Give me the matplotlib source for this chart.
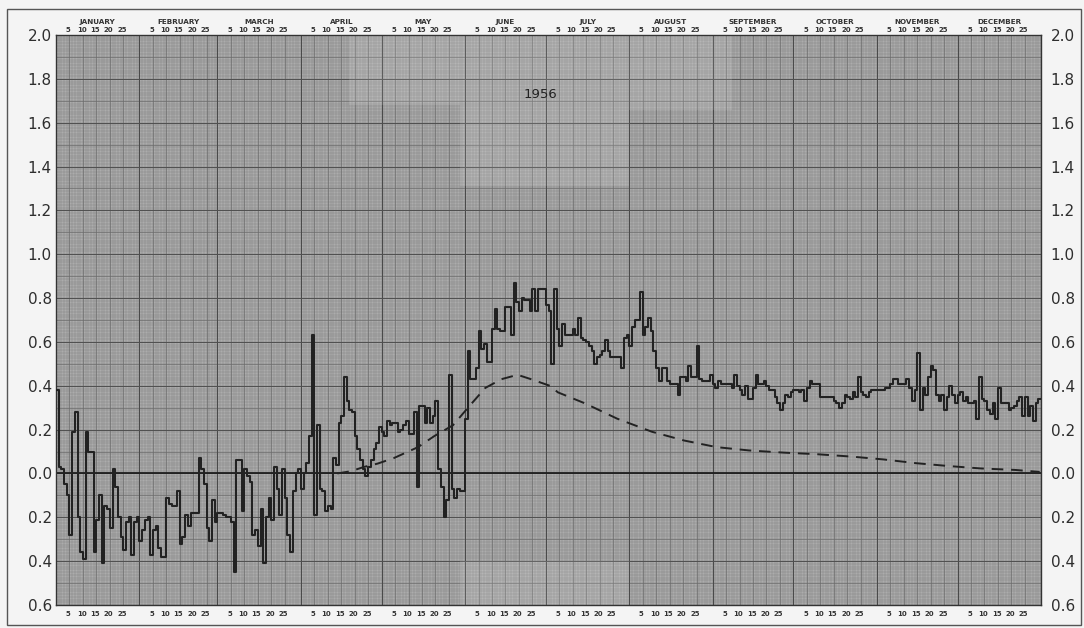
import numpy as np
import matplotlib.pyplot as plt
from matplotlib.transforms import blended_transform_factory

# daily values for 1956 (leap year), one list per month
jan = [0.38, 0.03, 0.02, -0.05, -0.10, -0.28, 0.19, 0.28, -0.20, -0.36, -0.39, 0.19, 0.10, 0.10,
       -0.36, -0.21, -0.10, -0.41, -0.15, -0.16, -0.25, 0.02, -0.06, -0.20, -0.29, -0.35, -0.22,
       -0.20, -0.37, -0.22, -0.20]
feb = [-0.31, -0.26, -0.21, -0.20, -0.37, -0.26, -0.24, -0.34, -0.38, -0.38, -0.11, -0.14, -0.15,
       -0.15, -0.08, -0.32, -0.29, -0.19, -0.24, -0.18, -0.18, -0.18, 0.07, 0.02, -0.05, -0.25,
       -0.31, -0.12, -0.22]
mar = [-0.18, -0.18, -0.19, -0.20, -0.20, -0.22, -0.45, 0.06, 0.06, -0.17, 0.02, -0.01, -0.04,
       -0.28, -0.26, -0.33, -0.16, -0.41, -0.20, -0.11, -0.21, 0.03, -0.07, -0.19, 0.02, -0.11,
       -0.28, -0.36, -0.08, 0.00, 0.02]
apr = [-0.07, 0.00, 0.05, 0.17, 0.63, -0.19, 0.22, -0.07, -0.08, -0.17, -0.15, -0.16, 0.07, 0.04,
       0.23, 0.26, 0.44, 0.33, 0.29, 0.28, 0.17, 0.11, 0.06, 0.02, -0.01, 0.03, 0.06, 0.11, 0.14,
       0.21]
may = [0.19, 0.17, 0.24, 0.22, 0.23, 0.23, 0.19, 0.20, 0.22, 0.24, 0.18, 0.18, 0.28, -0.06, 0.31,
       0.31, 0.23, 0.30, 0.23, 0.26, 0.33, 0.02, -0.06, -0.20, -0.12, 0.45, -0.07, -0.11, -0.07,
       -0.08, -0.08]
jun = [0.25, 0.56, 0.43, 0.43, 0.48, 0.65, 0.57, 0.59, 0.51, 0.51, 0.66, 0.75, 0.66, 0.65, 0.65,
       0.76, 0.76, 0.63, 0.87, 0.78, 0.74, 0.80, 0.79, 0.79, 0.74, 0.84, 0.74, 0.84, 0.84, 0.84]
jul = [0.77, 0.74, 0.50, 0.84, 0.66, 0.58, 0.68, 0.63, 0.63, 0.63, 0.66, 0.63, 0.71, 0.62, 0.61,
       0.60, 0.58, 0.56, 0.50, 0.53, 0.54, 0.56, 0.61, 0.56, 0.53, 0.53, 0.53, 0.53, 0.48, 0.62,
       0.63]
aug = [0.58, 0.67, 0.70, 0.70, 0.83, 0.63, 0.67, 0.71, 0.65, 0.56, 0.48, 0.42, 0.48, 0.48, 0.42,
       0.41, 0.41, 0.41, 0.36, 0.44, 0.44, 0.42, 0.49, 0.44, 0.44, 0.58, 0.43, 0.42, 0.42, 0.42,
       0.45]
sep = [0.41, 0.39, 0.42, 0.41, 0.41, 0.41, 0.41, 0.39, 0.45, 0.40, 0.38, 0.36, 0.40, 0.34, 0.34,
       0.39, 0.45, 0.41, 0.41, 0.42, 0.40, 0.38, 0.38, 0.35, 0.32, 0.29, 0.32, 0.36, 0.35, 0.37]
oct_ = [0.38, 0.38, 0.37, 0.38, 0.33, 0.39, 0.42, 0.41, 0.41, 0.41, 0.35, 0.35, 0.35, 0.35, 0.35,
        0.33, 0.32, 0.30, 0.32, 0.36, 0.35, 0.34, 0.37, 0.35, 0.44, 0.37, 0.36, 0.35, 0.37, 0.38,
        0.38]
nov = [0.38, 0.38, 0.38, 0.39, 0.39, 0.41, 0.43, 0.43, 0.41, 0.41, 0.41, 0.43, 0.39, 0.33, 0.38,
       0.55, 0.29, 0.39, 0.36, 0.44, 0.49, 0.47, 0.36, 0.33, 0.36, 0.29, 0.35, 0.40, 0.36, 0.32]
dec = [0.36, 0.37, 0.33, 0.35, 0.32, 0.32, 0.33, 0.25, 0.44, 0.34, 0.33, 0.29, 0.27, 0.32, 0.25,
       0.39, 0.32, 0.32, 0.32, 0.29, 0.30, 0.31, 0.33, 0.35, 0.26, 0.35, 0.26, 0.31, 0.24, 0.32,
       0.34]

# smooth seasonal curve (day of year, value)
curve_day = [105, 110, 115, 120, 126, 135, 141, 148, 155, 160, 166, 172, 177, 184, 187, 197,
             209, 222, 234, 246, 258, 271, 283, 296, 308, 320, 332, 344, 357, 366]
curve_val = [0.0, 0.01, 0.03, 0.045, 0.07, 0.12, 0.17, 0.22, 0.32, 0.39, 0.43, 0.45, 0.43, 0.40,
             0.37, 0.32, 0.25, 0.19, 0.15, 0.12, 0.105, 0.095, 0.088, 0.077, 0.064, 0.047, 0.034,
             0.023, 0.016, 0.007]

months = ["JANUARY", "FEBRUARY", "MARCH", "APRIL", "MAY", "JUNE", "JULY", "AUGUST",
          "SEPTEMBER", "OCTOBER", "NOVEMBER", "DECEMBER"]
day_marks = [5, 10, 15, 20, 25]
y_ticks = [-0.6, -0.4, -0.2, 0.0, 0.2, 0.4, 0.6, 0.8, 1.0, 1.2, 1.4, 1.6, 1.8, 2.0]

monthly = [jan, feb, mar, apr, may, jun, jul, aug, sep, oct_, nov, dec]
vals = np.concatenate([np.asarray(m, float) for m in monthly])
lengths = [len(m) for m in monthly]
starts = np.r_[0, np.cumsum(lengths)[:-1]]
ndays = len(vals)

INK = "#222222"
W, H = 1084, 628
fig = plt.figure(figsize=(W / 100, H / 100), dpi=100, facecolor="#f4f4f4")
ax = fig.add_axes([56 / W, 1 - 605 / H, 985 / W, 570 / H])
ax.set_xlim(0, ndays)
ax.set_ylim(-0.6, 2.0)
ax.set_facecolor("#acacac")

# graph paper: fine, medium and heavy rulings
ax.vlines(np.arange(ndays + 1), -0.6, 2.0, color="#7e7e7e", lw=0.3, zorder=1)
ax.hlines(np.arange(-0.6, 2.0001, 0.0125), 0, ndays, color="#7e7e7e", lw=0.3, zorder=1)
five = np.concatenate([s + np.array(day_marks) for s in starts])
ax.vlines(five, -0.6, 2.0, color="#6a6a6a", lw=0.45, zorder=1)
ax.hlines(np.arange(-0.6, 2.0001, 0.1), 0, ndays, color="#6a6a6a", lw=0.45, zorder=1)
ax.vlines(starts[1:], -0.6, 2.0, color="#4a4a4a", lw=0.75, zorder=1)
ax.hlines(np.arange(-0.6, 2.0001, 0.2), 0, ndays, color="#505050", lw=0.7, zorder=1)

# paler sheets pasted over the upper middle and lower middle of the paper
for x0, x1, y0, y1 in [(109, 150, 1.68, 2.0), (150, 213, 1.31, 2.0), (213, 251, 1.66, 2.0),
                       (150, 213, -0.6, -0.40)]:
    ax.add_patch(plt.Rectangle((x0, y0), x1 - x0, y1 - y0, facecolor="white", alpha=0.11,
                               edgecolor="none", zorder=1.5))

ax.axhline(0, color="#1e1e1e", lw=1.3, zorder=2)

# daily steps and dashed seasonal curve
ax.step(np.arange(ndays + 1), np.r_[vals, vals[-1]], where="post",
        color=INK, lw=1.5, zorder=4)
ax.plot(np.asarray(curve_day) - 0.5, curve_val, color=INK, lw=1.4,
        linestyle=(0, (6, 4)), zorder=3)

ax.text(180, 1.73, "1956", fontsize=9.5, color=INK, ha="center", va="center", zorder=5)

for s in ax.spines.values():
    s.set_color("#333333")
    s.set_linewidth(1.0)

ax.set_xticks([])
ax.set_yticks(y_ticks)
labels = [f"{abs(v):.1f}" for v in y_ticks]
ax.set_yticklabels(labels, fontsize=11, color="#2e2e2e")
ax.tick_params(axis="y", length=0, pad=3)
ax2 = ax.twinx()
ax2.set_ylim(ax.get_ylim())
ax2.set_yticks(y_ticks)
ax2.set_yticklabels(labels, fontsize=11, color="#2e2e2e")
ax2.tick_params(axis="y", length=0, pad=7)
for s in ax2.spines.values():
    s.set_visible(False)

# month headers and day numbers above and below
tr = blended_transform_factory(ax.transData, ax.transAxes)
for name, s, n in zip(months, starts, lengths):
    ax.text(s + n / 2, 1.0228, name, transform=tr, ha="center", va="center",
            fontsize=5.2, fontweight="bold", color="#333333")
    for d in day_marks:
        ax.text(s + d - 0.5, 1.0088, str(d), transform=tr, ha="center", va="center",
                fontsize=5, fontweight="bold", color="#333333")
        ax.text(s + d - 0.5, -0.0158, str(d), transform=tr, ha="center", va="center",
                fontsize=5, fontweight="bold", color="#333333")

# sheet border
fig.add_artist(plt.Rectangle((7 / W, 1 - 625 / H), 1074 / W, 616 / H, transform=fig.transFigure,
                             fill=False, edgecolor="#555555", lw=1.0))

fig.savefig("out.png", dpi=100, facecolor=fig.get_facecolor())
